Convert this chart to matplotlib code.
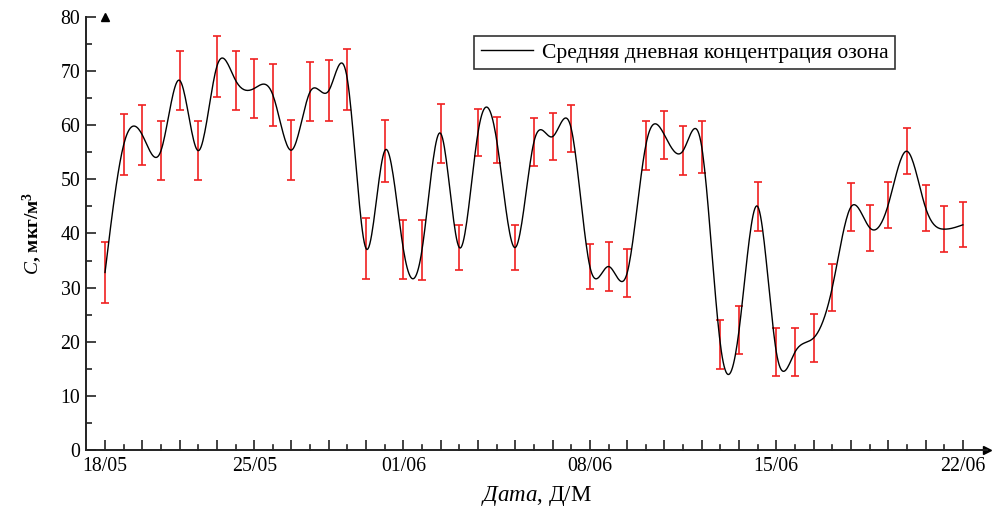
import numpy as np
import matplotlib

matplotlib.use("Agg")
import matplotlib.pyplot as plt
from matplotlib.ticker import MultipleLocator, FixedLocator, FixedFormatter

# daily ozone series, index 0 = 18/05
day_index = list(range(47))
ozone = [32.8, 56.4, 58.2, 55.3, 68.3, 55.3, 70.9, 68.3, 66.8, 65.6,
         55.4, 66.2, 66.4, 68.4, 37.2, 55.3, 37.1, 37.0, 58.5, 37.4,
         58.6, 57.3, 37.4, 56.9, 57.9, 59.4, 33.9, 33.9, 32.7, 56.3,
         58.2, 55.3, 56.0, 19.5, 22.1, 45.0, 18.1, 18.1, 20.7, 30.0,
         44.9, 41.1, 45.3, 55.2, 44.8, 40.8, 41.6]
ozone_err = [5.65, 5.6, 5.55, 5.5, 5.45, 5.5, 5.6, 5.45, 5.45, 5.75,
             5.6, 5.45, 5.6, 5.6, 5.65, 5.75, 5.45, 5.5, 5.5, 4.2,
             4.35, 4.25, 4.2, 4.4, 4.4, 4.35, 4.2, 4.5, 4.35, 4.5,
             4.4, 4.5, 4.75, 4.6, 4.45, 4.45, 4.5, 4.5, 4.45, 4.35,
             4.35, 4.25, 4.2, 4.25, 4.25, 4.25, 4.15]
label_pos = [0, 8, 16, 26, 36, 46]
label_text = ["18/05", "25/05", "01/06", "08/06", "15/06", "22/06"]


def natural_spline(x, y, n=20):
    x = np.asarray(x, float)
    y = np.asarray(y, float)
    k = len(x)
    h = np.diff(x)
    a = np.zeros((k, k))
    b = np.zeros(k)
    a[0, 0] = a[-1, -1] = 1.0
    for i in range(1, k - 1):
        a[i, i - 1] = h[i - 1]
        a[i, i] = 2 * (h[i - 1] + h[i])
        a[i, i + 1] = h[i]
        b[i] = 6 * ((y[i + 1] - y[i]) / h[i] - (y[i] - y[i - 1]) / h[i - 1])
    m = np.linalg.solve(a, b)
    xs, ys = [], []
    for i in range(k - 1):
        t = np.linspace(x[i], x[i + 1], n, endpoint=False)
        u = t - x[i]
        v = x[i + 1] - t
        s = (m[i] * v**3 + m[i + 1] * u**3) / (6 * h[i]) \
            + (y[i] / h[i] - m[i] * h[i] / 6) * v \
            + (y[i + 1] / h[i] - m[i + 1] * h[i] / 6) * u
        xs.extend(t)
        ys.extend(s)
    xs.append(x[-1])
    ys.append(y[-1])
    return np.array(xs), np.array(ys)


plt.rcParams["font.family"] = ["Liberation Serif", "DejaVu Serif"]
plt.rcParams["mathtext.fontset"] = "custom"
plt.rcParams["mathtext.rm"] = "Liberation Serif"
plt.rcParams["mathtext.it"] = "Liberation Serif:italic"
plt.rcParams["mathtext.bf"] = "Liberation Serif:bold"

fig = plt.figure(figsize=(9.92, 5.12), dpi=100)
ax = fig.add_axes([0.0867, 0.1211, 0.9083, 0.8457])

xs, ys = natural_spline(day_index, ozone)
ax.errorbar(day_index, ozone, yerr=ozone_err, fmt="none", ecolor="#f02020",
            elinewidth=1.2, capsize=2.6, capthick=1.2, zorder=2)
ax.plot(xs, ys, color="black", lw=1.0, zorder=3,
        label="Средняя дневная концентрация озона")

ax.set_xlim(-1.02, 47.3)
ax.set_ylim(0, 80)
for side in ("top", "right"):
    ax.spines[side].set_visible(False)
for side in ("left", "bottom"):
    ax.spines[side].set_linewidth(1.4)
    ax.spines[side].set_color("#222222")

ax.xaxis.set_major_locator(FixedLocator(label_pos))
ax.xaxis.set_major_formatter(FixedFormatter(label_text))
ax.xaxis.set_minor_locator(FixedLocator([i for i in range(47) if i % 2 == 0 and i not in label_pos]))
ax.yaxis.set_major_locator(MultipleLocator(10))
ax.yaxis.set_minor_locator(MultipleLocator(5))
ax.tick_params(axis="both", which="major", direction="in", length=7, width=1.2,
               labelsize=14.3, color="#222222")
ax.tick_params(axis="x", which="minor", direction="in", length=7, width=1.2, color="#222222")
ax.tick_params(axis="y", which="minor", direction="in", length=4, width=1.2, color="#222222")
ax.tick_params(axis="x", pad=5)
ax.tick_params(axis="y", pad=4)

# short ticks at odd days
for i in day_index:
    if i % 2 == 1:
        ax.plot([i, i], [0, 0.9], color="#222222", lw=1.2, clip_on=False, zorder=1)

# arrow heads on axes
ax.plot(1, 0, ">", color="black", ms=6, transform=ax.get_yaxis_transform(), clip_on=False)
ax.plot(0, 1, "^", color="black", ms=6, transform=ax.get_xaxis_transform(), clip_on=False)

ax.set_xlabel(r"$\mathit{Дата}$, Д/М", fontsize=16.5, labelpad=6)
ax.set_ylabel(r"$\mathit{C}$, мкг/м$^{\mathbf{3}}$", fontsize=14, fontweight="bold", labelpad=12)

leg = ax.legend(loc="upper left", bbox_to_anchor=(0.431, 0.956), fontsize=15.6,
                frameon=True, fancybox=False, handlelength=2.4, borderpad=0.3,
                handletextpad=0.4, borderaxespad=0)
leg.get_frame().set_edgecolor("black")
leg.get_frame().set_linewidth(1.2)

fig.savefig("out.png", dpi=100)
